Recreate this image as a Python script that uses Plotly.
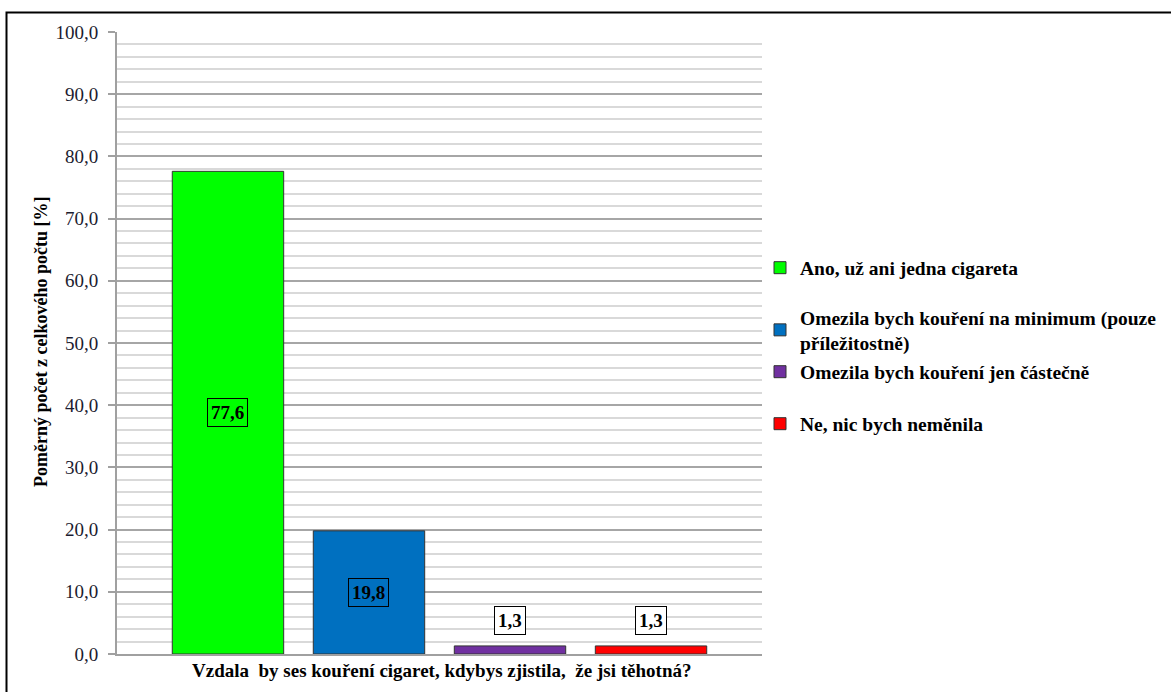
import plotly.graph_objects as go

# Survey answers and their shares (%)
answers = [
    "Ano, už ani jedna cigareta",
    "Omezila bych kouření na minimum (pouze<br>příležitostně)",
    "Omezila bych kouření jen částečně",
    "Ne, nic bych neměnila",
]
shares = [77.6, 19.8, 1.3, 1.3]
colors = ["#00ff00", "#0070c0", "#7030a0", "#ff0000"]
question = "Vzdala  by ses kouření cigaret, kdybys zjistila,  že jsi těhotná?"
y_title = "Poměrný počet z celkového počtu [%]"

FONT = "Liberation Serif"
W, H = 1171, 692
L, R, T, B = 117, 409, 32, 38
PW, PH = W - L - R, H - T - B


def px_x(px):
    return (px - L) / PW


def px_y(py):
    return (H - B - py) / PH


legend_names = ["legend", "legend2", "legend3", "legend4"]
legend_centers = [268, 330, 372, 424]

fig = go.Figure()
for i, (name, val, col) in enumerate(zip(answers, shares, colors)):
    bold_name = "<br>".join(f"<b>{part}</b>" for part in name.split("<br>"))
    fig.add_trace(go.Bar(
        x=[i], y=[val], name=bold_name, width=0.79,
        marker=dict(color=col, line=dict(color="#333333", width=1)),
        legend=legend_names[i], hoverinfo="skip",
    ))

# value labels in framed boxes
for i, val in enumerate(shares):
    txt = f"{val:.1f}".replace(".", ",")
    inside = val >= 10
    fig.add_annotation(
        x=i, y=val / 2 if inside else val,
        xref="x", yref="y", text=f"<b>{txt}</b>", showarrow=False,
        yanchor="middle" if inside else "bottom",
        yshift=0 if inside else 11,
        font=dict(family=FONT, size=19, color="#000000"),
        bordercolor="#000000", borderwidth=1, borderpad=3,
        bgcolor="rgba(0,0,0,0)" if inside else "#ffffff",
    )

# axis titles
fig.add_annotation(
    x=px_x(441), y=px_y(670), xref="paper", yref="paper",
    text=f"<b>{question}</b>", showarrow=False,
    xanchor="center", yanchor="middle",
    font=dict(family=FONT, size=19, color="#000000"),
)
fig.add_annotation(
    x=px_x(41), y=px_y(342), xref="paper", yref="paper",
    text=f"<b>{y_title}</b>", showarrow=False, textangle=-90,
    xanchor="center", yanchor="middle",
    font=dict(family=FONT, size=18, color="#000000"),
)

# outer frame
fig.add_shape(
    type="rect", xref="paper", yref="paper",
    x0=px_x(6.5), x1=px_x(1185), y0=px_y(705), y1=px_y(12.5),
    line=dict(color="#000000", width=2), fillcolor="rgba(0,0,0,0)",
)

legend_style = dict(
    xanchor="left", yanchor="middle", bgcolor="rgba(0,0,0,0)",
    borderwidth=0, font=dict(family=FONT, size=19.5, color="#000000"),
)
layout_legends = {}
for name, cy in zip(legend_names, legend_centers):
    layout_legends[name] = dict(x=px_x(760), y=px_y(cy), **legend_style)

fig.update_layout(
    width=W, height=H,
    margin=dict(l=L, r=R, t=T, b=B, autoexpand=False),
    paper_bgcolor="#ffffff", plot_bgcolor="#ffffff",
    separators=", ",
    showlegend=True,
    **layout_legends,
    xaxis=dict(
        range=[-0.787, 3.787], showticklabels=False, showgrid=False,
        zeroline=False, showline=True, linecolor="#a0a0a0", linewidth=2,
        ticks="", fixedrange=True,
    ),
    yaxis=dict(
        range=[0, 100], dtick=10, tickformat=".1f",
        showgrid=True, gridcolor="#a6a6a6", gridwidth=1.5,
        minor=dict(dtick=2, showgrid=True, gridcolor="#d9d9d9", gridwidth=1.5),
        zeroline=False, showline=True, linecolor="#a0a0a0", linewidth=2,
        ticks="outside", ticklen=7, tickcolor="#a0a0a0", tickwidth=1.5,
        tickfont=dict(family=FONT, size=19, color="#1c1c30"),
        ticklabelstandoff=6, fixedrange=True,
    ),
)

fig.write_html("out.html")
